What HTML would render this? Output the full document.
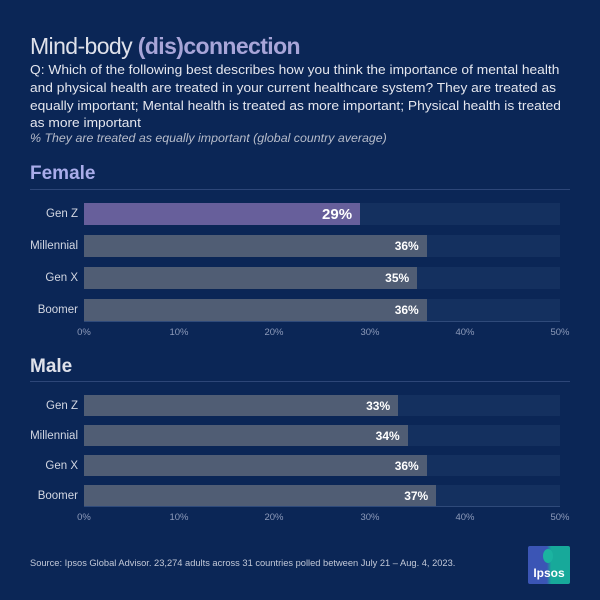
<!DOCTYPE html>
<html><head><style>
body{margin:0;width:600px;height:600px;background:#0b2656;font-family:"Liberation Sans",sans-serif;position:relative;overflow:hidden}
.a{position:absolute;white-space:nowrap}
.t{left:30px;top:33px;font-size:23px;color:#dfe1ea;letter-spacing:-0.6px}
.t b{color:#a8a5d8}
.q{left:30px;top:61px;font-size:13.3px;line-height:17.8px;color:#e4e6ee;transform:scaleX(1.035);transform-origin:0 0}
.s{left:30px;top:131px;font-size:12.4px;font-style:italic;color:#b7bcca}
.h{left:30px;font-size:19px;font-weight:bold}
.hr{position:absolute;left:30px;width:540px;height:1px;background:#2d4678}
.trk{position:absolute;left:84px;width:476px;background:#14305f}
.bar{position:absolute;left:0;top:0;bottom:0;background:#505d74}
.v{position:absolute;right:8px;top:0;bottom:0;display:flex;align-items:center;color:#fff;font-weight:bold;font-size:12px}
.lb{position:absolute;right:522px;font-size:11.5px;color:#d3d7e2;text-align:right;font-weight:normal;display:flex;align-items:center;justify-content:flex-end}
.tk{position:absolute;font-size:9.5px;color:#8e9bba;transform:translateX(-50%)}
.ax{position:absolute;left:84px;width:476px;height:1px;background:#2f4a7a}
</style></head><body>
<div class="a t">Mind-body <b>(dis)connection</b></div>
<div class="a q">Q: Which of the following best describes how you think the importance of mental health<br>and physical health are treated in your current healthcare system? They are treated as<br>equally important; Mental health is treated as more important; Physical health is treated<br>as more important</div>
<div class="a s">% They are treated as equally important (global country average)</div>

<div class="a h" style="top:163px;color:#a9acea">Female</div>
<div class="hr" style="top:189px"></div>

<div class="trk" style="top:203px;height:22px"><div class="bar" style="width:58%;background:#675f9b"><span class="v" style="font-size:15px">29%</span></div></div>
<div class="lb" style="top:203px;height:22px">Gen Z</div>
<div class="trk" style="top:235px;height:22px"><div class="bar" style="width:72%"><span class="v">36%</span></div></div>
<div class="lb" style="top:235px;height:22px">Millennial</div>
<div class="trk" style="top:267px;height:22px"><div class="bar" style="width:70%"><span class="v">35%</span></div></div>
<div class="lb" style="top:267px;height:22px">Gen X</div>
<div class="trk" style="top:299px;height:22px"><div class="bar" style="width:72%"><span class="v">36%</span></div></div>
<div class="lb" style="top:299px;height:22px">Boomer</div>
<div class="ax" style="top:321px"></div>
<div class="tk" style="left:84px;top:327px">0%</div><div class="tk" style="left:179px;top:327px">10%</div><div class="tk" style="left:274px;top:327px">20%</div><div class="tk" style="left:370px;top:327px">30%</div><div class="tk" style="left:465px;top:327px">40%</div><div class="tk" style="left:560px;top:327px">50%</div>

<div class="a h" style="top:356px;color:#dfe1ea">Male</div>
<div class="hr" style="top:381px"></div>

<div class="trk" style="top:395px;height:21px"><div class="bar" style="width:66%"><span class="v">33%</span></div></div>
<div class="lb" style="top:395px;height:21px">Gen Z</div>
<div class="trk" style="top:425px;height:21px"><div class="bar" style="width:68%"><span class="v">34%</span></div></div>
<div class="lb" style="top:425px;height:21px">Millennial</div>
<div class="trk" style="top:455px;height:21px"><div class="bar" style="width:72%"><span class="v">36%</span></div></div>
<div class="lb" style="top:455px;height:21px">Gen X</div>
<div class="trk" style="top:485px;height:21px"><div class="bar" style="width:74%"><span class="v">37%</span></div></div>
<div class="lb" style="top:485px;height:21px">Boomer</div>
<div class="ax" style="top:506px"></div>
<div class="tk" style="left:84px;top:512px">0%</div><div class="tk" style="left:179px;top:512px">10%</div><div class="tk" style="left:274px;top:512px">20%</div><div class="tk" style="left:370px;top:512px">30%</div><div class="tk" style="left:465px;top:512px">40%</div><div class="tk" style="left:560px;top:512px">50%</div>

<div class="a" style="left:30px;top:558px;font-size:9.3px;color:#c3c9d8">Source: Ipsos Global Advisor. 23,274 adults across 31 countries polled between July 21 – Aug. 4, 2023.</div>
<div style="position:absolute;left:528px;top:546px;width:42px;height:38px;background:linear-gradient(90deg,#3b55b5 0%,#3b55b5 45%,#17a99a 55%,#17a99a 100%);border-radius:2px">
<div style="position:absolute;left:15px;top:3px;width:10px;height:14px;border-radius:50%;background:#1bb3a0"></div>
<div style="position:absolute;left:0;right:0;top:20px;text-align:center;color:#fff;font-weight:bold;font-size:12px">Ipsos</div></div>
</body></html>
